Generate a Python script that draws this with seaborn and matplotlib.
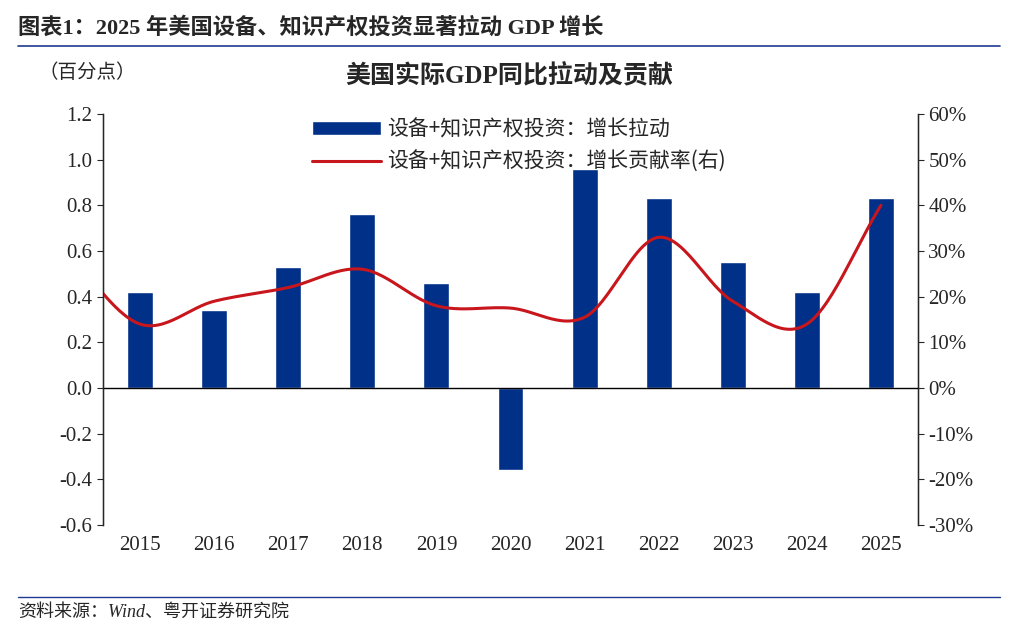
import numpy as np
import pandas as pd
import matplotlib.pyplot as plt
import seaborn as sns

years = ["2015", "2016", "2017", "2018", "2019", "2020", "2021", "2022", "2023", "2024", "2025"]
pull = [0.42, 0.34, 0.53, 0.76, 0.46, -0.36, 0.96, 0.83, 0.55, 0.42, 0.83]
# contribution share (%), first value is 2014, just left of the plot
share_years = [2014] + [int(y) for y in years]
share = [30, 14, 19, 22, 26, 18, 17.5, 15.5, 33, 19, 14, 40]

sns.set_style("white")
plt.rcParams['font.family'] = ['Liberation Serif', 'Noto Sans CJK SC']

fig = plt.figure(figsize=(10.18, 6.32), dpi=100)
ax = fig.add_axes([103/1018, 1-525/632, (918-103)/1018, (525-114)/632])

df = pd.DataFrame({"year": years, "pull": pull})
sns.barplot(data=df, x="year", y="pull", color="#003087", width=0.35, ax=ax,
            label="设备+知识产权投资：增长拉动", saturation=1)
ax.set_xlim(-0.5, 10.5)
ax.set_ylim(-0.6, 1.2)
ax.set_yticks(np.arange(-0.6, 1.21, 0.2))
ax.set_yticklabels([f"{v:.1f}" for v in np.arange(-0.6, 1.21, 0.2)], fontsize=15)
ax.tick_params(axis='x', labelsize=15, length=0, pad=8)
ax.tick_params(axis='y', length=4, direction='out', left=True)
ax.set_xlabel("")
ax.set_ylabel("")
ax.axhline(0, color="black", lw=1)
for s in ["top", "bottom"]:
    ax.spines[s].set_visible(False)
for s in ["left", "right"]:
    ax.spines[s].set_color("black")
    ax.spines[s].set_linewidth(1)

# smooth curve through the share points (Catmull-Rom)
px = np.array(share_years, float) - 2015
py = np.array(share, float)
P = np.vstack([np.r_[2*px[0]-px[1], px, 2*px[-1]-px[-2]], np.r_[2*py[0]-py[1], py, 2*py[-1]-py[-2]]]).T
t = np.linspace(0, 1, 30)
cx, cy = [], []
for i in range(1, len(P) - 2):
    p0, p1, p2, p3 = P[i-1], P[i], P[i+1], P[i+2]
    c = 0.5 * ((2*p1)[:, None] + (-p0+p2)[:, None]*t + (2*p0-5*p1+4*p2-p3)[:, None]*t**2 + (-p0+3*p1-3*p2+p3)[:, None]*t**3)
    cx.extend(c[0]); cy.extend(c[1])

ax2 = ax.twinx()
ax2.plot(cx, cy, color="#C8161D", lw=2.2, label="设备+知识产权投资：增长贡献率(右)")
ax2.set_ylim(-30, 60)
ax2.set_xlim(-0.5, 10.5)
ax2.set_yticks(range(-30, 61, 10))
ax2.set_yticklabels([f"{v}%" for v in range(-30, 61, 10)], fontsize=15)
ax2.tick_params(axis='y', length=4, direction='out', right=True)
for s in ["top", "bottom"]:
    ax2.spines[s].set_visible(False)

h1, l1 = ax.get_legend_handles_labels()
h2, l2 = ax2.get_legend_handles_labels()
ax.legend(h1 + h2, l1 + l2, loc="upper center", bbox_to_anchor=(0.51, 1.035), frameon=False,
          handlelength=3.3, labelspacing=0.5, handletextpad=0.3,
          prop={'family': ['Noto Sans CJK SC'], 'size': 15})

fig.text(0.5, 1-76/632, "美国实际GDP同比拉动及贡献", ha="center", va="center", fontsize=18, fontweight="bold")
fig.text(38/1018, 1-73/632, "（百分点）", ha="left", va="center", fontsize=14, family=['Noto Sans CJK SC'])
fig.text(18/1018, 1-28/632, "图表1：2025 年美国设备、知识产权投资显著拉动 GDP 增长", ha="left", va="center",
         fontsize=16, fontweight="bold")
fig.add_artist(plt.Line2D([18/1018, 1000/1018], [1-46/632, 1-46/632], color="#1F3A93", lw=1.2))
fig.add_artist(plt.Line2D([18/1018, 1000/1018], [1-597/632, 1-597/632], color="#1F3A93", lw=1))
fig.text(18/1018, 1-612/632, "资料来源：Wind、粤开证券研究院", ha="left", va="center", fontsize=13, style="italic")

fig.savefig("out.png", dpi=100)
